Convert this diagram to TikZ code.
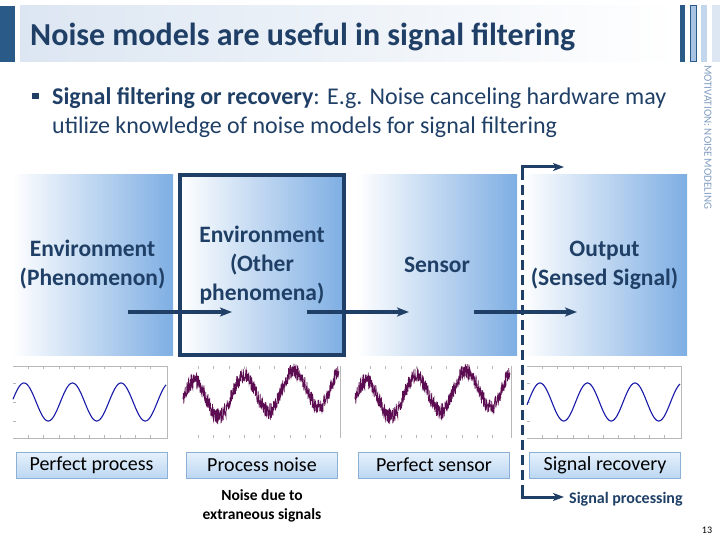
\documentclass[tikz,border=0pt]{standalone}
\usepackage{fontspec}
\setmainfont{Carlito}
\usetikzlibrary{arrows.meta,shadings}
\definecolor{navy}{HTML}{1F3F66}
\definecolor{barblue}{HTML}{2A5A88}
\definecolor{bartwo}{HTML}{A9C4E2}
\definecolor{barthree}{HTML}{C3D6EC}
\definecolor{barfour}{HTML}{DDE7F3}
\definecolor{hdrblue}{HTML}{DCE6F2}
\definecolor{boxblue}{HTML}{7EAEE3}
\definecolor{lbtop}{HTML}{E6F1FC}
\definecolor{lbbot}{HTML}{BCD7F2}
\definecolor{lbborder}{HTML}{8DB0D6}
\definecolor{sineblue}{HTML}{1A1AA8}
\definecolor{noisy}{HTML}{5C0C50}
\definecolor{sidegray}{HTML}{7F9CC0}
\definecolor{axisgray}{HTML}{B8B8B8}
\tikzset{
  gbox/.style={left color=white, right color=boxblue, minimum width=161, minimum height=180, inner sep=0, align=center, text=navy, font=\fontsize{23.5}{29}\selectfont\bfseries},
  flow/.style={navy, line width=4, -{Stealth[length=12pt,width=9pt,inset=3pt]}},
  procline/.style={navy, line width=3, -{Stealth[length=11pt,width=8pt,inset=3pt]}},
  dashline/.style={navy, line width=3, dash pattern=on 10pt off 5pt},
  lbox/.style={top color=lbtop, bottom color=lbbot, draw=lbborder, line width=0.8, minimum width=151, minimum height=26, inner sep=0, font=\fontsize{20}{22}\selectfont},
  axisline/.style={axisgray, line width=0.7},
  cleanwave/.style={sineblue, line width=1.1},
  noisywave/.style={noisy, line width=0.7},
  bullettext/.style={anchor=base west, inner sep=0, font=\fontsize{24}{29}\selectfont, text=navy},
}
\begin{document}
\begin{tikzpicture}[x=1pt,y=-1pt]
\useasboundingbox (0,0) rectangle (720,540);
% header
\fill[barblue] (0,6) rectangle (15,62);
\shade[left color=hdrblue, right color=white] (20,6) rectangle (680,62);
\node[anchor=base west, inner sep=0, font=\fontsize{32}{36}\selectfont\bfseries, text=navy] (title) at (30,46) {Noise models are useful in signal filtering};
\fill[barblue] (680,5) rectangle (685,62);
\filldraw[fill=bartwo, draw=barblue, line width=0.8] (690.5,5.5) rectangle (696,61.5);
\fill[barthree] (701,5) rectangle (707,62);
\fill[barfour] (712,5) rectangle (720,62);
\node[rotate=-90, anchor=west, inner sep=0, font=\fontsize{11}{12}\selectfont, text=sidegray] (side) at (708,65) {MOTIVATION: NOISE MODELING};
% bullet
\fill[navy] (32,93) rectangle (38.5,99.5);
\node[bullettext] (bullet1) at (52,105) {\textbf{Signal filtering or recovery}: E.g. Noise canceling hardware may};
\node[bullettext] (bullet2) at (52,134) {utilize knowledge of noise models for signal filtering};
% boxes
\node[gbox] (b1) at (92.5,265) {Environment\\(Phenomenon)};
\node[gbox, minimum width=164, draw=navy, line width=4] (b2) at (262,265) {Environment\\(Other\\phenomena)};
\node[gbox, minimum width=160] (b3) at (437,265) {Sensor};
\node[gbox, minimum width=165] (b4) at (604.5,265) {Output\\(Sensed Signal)};
% flow arrows
\coordinate (a1s) at (128,312); \coordinate (a1e) at (232,312);
\coordinate (a2s) at (307,312); \coordinate (a2e) at (409,312);
\coordinate (a3s) at (474,312); \coordinate (a3e) at (577,312);
\draw[flow] (a1s) -- (a1e);
\draw[flow] (a2s) -- (a2e);
\draw[flow] (a3s) -- (a3e);
% processing boundary
\coordinate (dtop) at (522,167); \coordinate (dbot) at (522,497);
\coordinate (dtopend) at (564,167); \coordinate (dbotend) at (564,497);
\draw[dashline] (522,170) -- (522,494);
\draw[procline] (522,172) -- (dtop) -- (dtopend);
\draw[procline] (522,492) -- (dbot) -- (dbotend);
\node[anchor=west, inner sep=0, font=\fontsize{16}{18}\selectfont\bfseries, text=navy] (proc) at (569,499) {Signal processing};
% plot 1 (clean)
\draw[axisline] (13,366) -- (167,366) -- (167,438) -- (13,438);
\foreach \k in {1,...,9} {\draw[axisline] (13+15.3*\k,366) -- ++(0,3); \draw[axisline] (13+15.3*\k,438) -- ++(0,-3);}
\foreach \yy in {383,402,421} {\draw[axisline] (13,\yy) -- ++(3,0);}
\draw[cleanwave] plot[domain=13:166, samples=220, smooth] (\x, {402-19*cos(7.4227*(\x-24))});
% plot 4 (clean)
\draw[axisline] (527,366) -- (681,366) -- (681,438) -- (527,438);
\foreach \k in {1,...,9} {\draw[axisline] (527+15.3*\k,366) -- ++(0,3); \draw[axisline] (527+15.3*\k,438) -- ++(0,-3);}
\foreach \yy in {383,402,421} {\draw[axisline] (527,\yy) -- ++(3,0);}
\draw[cleanwave] plot[domain=527:680, samples=220, smooth] (\x, {402-19*cos(7.5789*(\x-540))});
% plot 2 (noisy)
\draw[axisline] (340,366) -- (340,438);
\foreach \k in {1,...,9} {\draw[axisline] (183+15.3*\k,366) -- ++(0,3); \draw[axisline] (183+15.3*\k,438) -- ++(0,-3);}
\pgfmathsetseed{7}
\draw[noisywave] plot[domain=183:339, samples=650] (\x, {401-0.1*(\x-183)-19*cos(7.2*(\x-194))+8*rand});
% plot 3 (noisy)
\draw[axisline] (511,366) -- (511,438);
\foreach \k in {1,...,9} {\draw[axisline] (355+15.3*\k,366) -- ++(0,3); \draw[axisline] (355+15.3*\k,438) -- ++(0,-3);}
\pgfmathsetseed{7}
\draw[noisywave] plot[domain=355:510, samples=650] (\x, {401-0.1*(\x-355)-19*cos(7.2*(\x-366))+8*rand});
% labels
\node[lbox] (l1) at (91.5,465) {Perfect process};
\node[lbox] (l2) at (262,465) {Process noise};
\node[lbox] (l3) at (434,465) {Perfect sensor};
\node[lbox] (l4) at (605,465) {Signal recovery};
\node[align=center, inner sep=0, font=\fontsize{15.5}{19}\selectfont\bfseries] (note) at (262,506) {Noise due to\\extraneous signals};
\node[inner sep=0, font=\fontsize{10}{12}\selectfont] (page) at (707,530) {13};
\end{tikzpicture}
\end{document}
